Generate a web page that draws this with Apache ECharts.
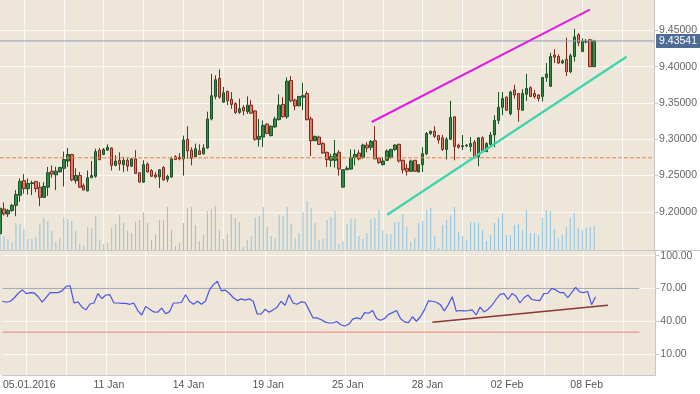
<!DOCTYPE html>
<html><head><meta charset="utf-8">
<script src="https://cdn.jsdelivr.net/npm/echarts@6/dist/echarts.min.js"></script>
<style>html,body{margin:0;padding:0;background:#fff}#c{width:700px;height:394px}</style>
</head><body><div id="c"></div>
<script>
// x-axis date labels and the candle slot they sit on
const tickLabels = ['05.01.2016','11 Jan','14 Jan','19 Jan','25 Jan','28 Jan','02 Feb','08 Feb'];
const tickSlots = [6,26,46,66,86,106,126,146];
const gridSlots = [6,16,26,36,46,56,66,76,86,96,106,116,126,136,146,156];
const slotCount = 165; // 150 candles + empty future slots
const categories = [];
for (let i = 0; i < slotCount; i++) categories.push(String(i));

// candles: [open, close, low, high]
const candles = [
[9.170,9.205,9.160,9.210],[9.204,9.197,9.195,9.213],[9.197,9.202,9.193,9.204],[9.202,9.209,9.200,9.211],[9.209,9.224,9.194,9.230],
[9.223,9.242,9.214,9.246],[9.243,9.232,9.225,9.252],[9.232,9.239,9.224,9.246],[9.239,9.240,9.223,9.243],[9.242,9.232,9.227,9.242],
[9.234,9.220,9.208,9.241],[9.220,9.235,9.220,9.241],[9.234,9.254,9.222,9.262],[9.256,9.252,9.247,9.264],[9.251,9.256,9.230,9.262],
[9.255,9.261,9.255,9.262],[9.260,9.272,9.235,9.283],[9.270,9.279,9.262,9.288],[9.279,9.244,9.242,9.280],[9.243,9.250,9.239,9.260],
[9.250,9.234,9.233,9.255],[9.236,9.230,9.230,9.239],[9.229,9.247,9.228,9.257],[9.247,9.250,9.247,9.270],[9.249,9.283,9.247,9.287],
[9.285,9.272,9.271,9.288],[9.279,9.286,9.278,9.288],[9.285,9.289,9.284,9.293],[9.288,9.264,9.257,9.289],[9.264,9.270,9.263,9.278],
[9.271,9.266,9.257,9.282],[9.265,9.271,9.255,9.276],[9.271,9.263,9.256,9.274],[9.263,9.273,9.262,9.274],[9.273,9.253,9.252,9.285],
[9.254,9.241,9.241,9.254],[9.241,9.265,9.240,9.271],[9.266,9.255,9.254,9.268],[9.257,9.249,9.248,9.259],[9.251,9.248,9.246,9.255],
[9.248,9.258,9.233,9.259],[9.261,9.244,9.243,9.263],[9.245,9.249,9.241,9.251],[9.248,9.273,9.247,9.276],[9.276,9.272,9.272,9.278],
[9.275,9.273,9.271,9.281],[9.273,9.299,9.250,9.305],[9.300,9.284,9.273,9.318],[9.285,9.274,9.264,9.289],[9.276,9.287,9.275,9.294],
[9.284,9.279,9.279,9.293],[9.280,9.288,9.279,9.293],[9.288,9.328,9.287,9.338],[9.328,9.360,9.326,9.390],[9.359,9.382,9.355,9.388],
[9.384,9.358,9.356,9.396],[9.351,9.364,9.351,9.372],[9.366,9.353,9.347,9.367],[9.355,9.348,9.342,9.365],[9.349,9.337,9.335,9.351],
[9.337,9.342,9.335,9.356],[9.344,9.339,9.333,9.347],[9.338,9.347,9.335,9.359],[9.347,9.336,9.335,9.354],[9.339,9.300,9.298,9.340],
[9.300,9.304,9.290,9.328],[9.303,9.319,9.289,9.326],[9.321,9.308,9.307,9.322],[9.305,9.318,9.304,9.319],[9.317,9.328,9.316,9.331],
[9.327,9.347,9.326,9.362],[9.348,9.331,9.330,9.358],[9.331,9.380,9.328,9.385],[9.381,9.353,9.351,9.387],[9.354,9.346,9.340,9.356],
[9.346,9.359,9.346,9.359],[9.358,9.360,9.340,9.378],[9.363,9.327,9.326,9.366],[9.328,9.298,9.277,9.331],[9.298,9.304,9.298,9.305],
[9.303,9.293,9.292,9.305],[9.294,9.281,9.280,9.296],[9.282,9.272,9.262,9.283],[9.271,9.276,9.262,9.280],[9.271,9.280,9.261,9.299],
[9.282,9.259,9.250,9.285],[9.234,9.258,9.234,9.259],[9.258,9.260,9.258,9.263],[9.259,9.275,9.258,9.286],[9.275,9.279,9.264,9.286],
[9.281,9.273,9.271,9.285],[9.275,9.292,9.273,9.294],[9.292,9.288,9.282,9.296],[9.289,9.297,9.285,9.299],[9.298,9.273,9.273,9.318],
[9.274,9.268,9.266,9.275],[9.265,9.270,9.264,9.275],[9.271,9.284,9.270,9.286],[9.275,9.286,9.273,9.287],[9.286,9.292,9.284,9.293],
[9.293,9.270,9.268,9.294],[9.271,9.258,9.253,9.272],[9.260,9.256,9.250,9.266],[9.256,9.270,9.255,9.272],[9.271,9.256,9.255,9.271],
[9.255,9.265,9.255,9.265],[9.265,9.280,9.255,9.289],[9.280,9.308,9.278,9.310],[9.308,9.311,9.306,9.312],[9.311,9.304,9.302,9.318],
[9.305,9.299,9.294,9.306],[9.302,9.286,9.284,9.306],[9.286,9.300,9.272,9.303],[9.300,9.330,9.299,9.353],[9.331,9.290,9.271,9.331],
[9.292,9.289,9.287,9.294],[9.290,9.291,9.285,9.306],[9.291,9.292,9.289,9.293],[9.290,9.294,9.283,9.303],[9.296,9.276,9.273,9.299],
[9.276,9.302,9.263,9.303],[9.302,9.283,9.281,9.304],[9.283,9.294,9.283,9.296],[9.293,9.306,9.290,9.310],[9.306,9.326,9.289,9.333],
[9.326,9.344,9.321,9.365],[9.344,9.356,9.333,9.365],[9.358,9.340,9.339,9.359],[9.335,9.365,9.333,9.367],[9.368,9.361,9.356,9.375],
[9.363,9.341,9.324,9.364],[9.340,9.363,9.339,9.369],[9.362,9.370,9.353,9.390],[9.371,9.359,9.358,9.373],[9.363,9.359,9.356,9.368],
[9.361,9.356,9.352,9.362],[9.359,9.385,9.352,9.386],[9.385,9.390,9.379,9.405],[9.373,9.414,9.372,9.419],[9.416,9.413,9.405,9.424],
[9.414,9.405,9.404,9.417],[9.405,9.408,9.404,9.410],[9.410,9.393,9.387,9.440],[9.393,9.415,9.391,9.418],[9.414,9.441,9.407,9.452],
[9.444,9.433,9.428,9.446],[9.421,9.435,9.420,9.439],[9.434,9.435,9.432,9.438],[9.437,9.400,9.400,9.438],[9.400,9.43541,9.400,9.437]
];

// volume (relative units)
const volumes = [
20,14,11,8,27,26,21,11,11,13,26,32,29,19,8,12,33,31,29,19,6,
5,23,22,34,10,6,7,22,26,35,27,19,17,28,30,38,27,10,15,30,
30,43,20,4,7,27,42,43,25,9,15,39,41,44,20,11,16,
36,32,28,3,10,14,32,34,43,23,14,12,35,34,43,26,12,17,38,49,42,27,
10,11,30,33,39,6,9,26,31,31,14,11,17,31,32,40,20,16,16,28,28,36,23,8,12,27,
29,40,42,14,2,25,30,
35,43,18,14,10,28,28,27,20,9,15,27,32,37,15,15,25,26,20,40,17,17,15,32,40,39,21,12,15,23,32,37,22,20,22,23,24
];

// RSI values
const rsi = [
58.3,57.4,58.3,61.5,65.6,68.7,65.3,66.2,65.9,62.4,
57.4,61.8,66.2,66.2,66.2,67.8,71.9,72.5,56.7,57.7,
52.9,50.4,55.8,56.7,65.3,60.8,64.0,64.3,56.7,56.7,
56.4,56.4,55.5,56.7,49.8,45.7,53.6,51.0,48.5,48.2,
52.0,46.9,48.8,56.7,56.7,57.4,64.3,58.3,55.5,58.3,
55.5,58.3,68.4,73.5,76.6,67.8,68.4,65.6,61.5,58.9,
60.5,59.3,60.5,58.3,46.6,46.6,51.0,48.2,50.4,52.9,
58.3,54.5,64.3,56.7,55.5,57.7,57.4,50.4,43.1,43.1,
41.6,39.4,38.4,38.4,39.7,36.8,35.6,37.2,41.9,43.1,
42.2,47.9,47.3,49.8,42.5,40.9,42.5,46.3,47.9,49.8,
42.5,39.4,38.7,44.1,40.0,44.1,50.4,58.6,58.3,57.4,
55.2,49.5,55.2,62.4,49.2,49.8,49.5,49.8,50.4,45.7,
52.9,48.5,51.0,54.8,59.9,64.6,65.3,59.9,65.3,63.0,
56.7,61.5,64.0,59.9,59.3,58.9,65.3,65.6,70.0,68.7,
66.2,66.2,61.5,66.2,70.9,66.8,66.2,67.2,55.2,62.4
];

const priceTicks = [9.20,9.25,9.30,9.35,9.40,9.45];
const rsiTicks = [10,40,70,100];
const lastPrice = 9.43541;
const refLevel = 9.2745;
const levelSpan = [0, 164];
const upperTrend = [[93.2,9.3238],[147.9,9.4784]];
const lowerTrend = [[97.1,9.1961],[157.1,9.4137]];
const rsiTrend = [[108.0,39.0],[152.1,54.6]];
const rsiHigh = [[0,70],[160,70]];
const rsiLow = [[0,30],[160,30]];

const FONT = 'Liberation Sans';
const BG = '#ede6d9';
const GRIDC = '#fbf9f5';
const AXC = '#c8c8c8';
const isGridSlot = (i) => gridSlots.indexOf(i) >= 0;
const isTickSlot = (i) => tickSlots.indexOf(i) >= 0;
const hiddenY = {show: false, axisLine: {show: false, onZero: false}, splitLine: {show: false}, axisTick: {show: false}, axisLabel: {show: false}};

const chart = echarts.init(document.getElementById('c'), null, {renderer: 'canvas'});
chart.setOption({
  animation: false,
  textStyle: {fontFamily: FONT},
  grid: [
    {left: -0.7, top: 0, width: 656, height: 250, show: false},
    {left: -0.7, top: 250, width: 656, height: 125, show: false}
  ],
  xAxis: [
    {type: 'category', gridIndex: 0, data: categories, boundaryGap: false,
     axisLine: {show: false, onZero: false}, axisTick: {show: false, interval: (i) => isGridSlot(i)}, axisLabel: {show: false},
     splitLine: {show: true, interval: (i) => isGridSlot(i), lineStyle: {color: GRIDC, width: 1}}},
    {type: 'category', gridIndex: 1, data: categories, boundaryGap: false,
     axisLine: {show: true, onZero: false, lineStyle: {color: AXC}}, axisTick: {show: false, interval: (i) => isGridSlot(i)},
     axisLabel: {show: true, interval: (i) => isTickSlot(i), color: '#555', fontSize: 10.5, margin: 5, padding: [0,0,0,6],
       formatter: (v) => { const k = tickSlots.indexOf(Number(v)); return k >= 0 ? tickLabels[k] : ''; }},
     splitLine: {show: true, interval: (i) => isGridSlot(i), lineStyle: {color: GRIDC, width: 1}}},
    Object.assign({type: 'value', gridIndex: 0, min: 0, max: 164}, hiddenY),
    Object.assign({type: 'value', gridIndex: 1, min: 0, max: 164}, hiddenY)
  ],
  yAxis: [
    {type: 'value', gridIndex: 0, position: 'right', min: 9.1475, max: 9.4918, scale: true,
     axisLine: {show: true, onZero: false, lineStyle: {color: AXC}},
     axisTick: {show: true, length: 4, customValues: priceTicks, lineStyle: {color: AXC}},
     axisLabel: {show: true, customValues: priceTicks, color: '#666', fontSize: 10.5, margin: 5, formatter: (v) => v.toFixed(5)},
     splitLine: {show: true, lineStyle: {color: GRIDC, width: 1}}},
    Object.assign({type: 'value', gridIndex: 0, min: 0, max: 250}, hiddenY),
    {type: 'value', gridIndex: 1, position: 'right', min: -9.23, max: 105.22,
     axisLine: {show: true, onZero: false, lineStyle: {color: AXC}},
     axisTick: {show: true, length: 4, customValues: rsiTicks, lineStyle: {color: AXC}},
     axisLabel: {show: true, customValues: rsiTicks, color: '#666', fontSize: 10.5, margin: 5, formatter: (v) => v.toFixed(2)},
     splitLine: {show: true, lineStyle: {color: GRIDC, width: 1}}}
  ],
  graphic: [
    {type: 'rect', shape: {x: 0, y: 0, width: 655, height: 375}, style: {fill: BG}, z: -10, silent: true},
    {type: 'line', shape: {x1: 0, y1: 250.5, x2: 700, y2: 250.5}, style: {stroke: AXC, lineWidth: 1}, z: 100, silent: true}
  ],
  series: [
    {type: 'bar', name: 'Volume', xAxisIndex: 0, yAxisIndex: 1, data: volumes, barWidth: 1,
     itemStyle: {color: '#8fc3df'}, silent: true},
    {type: 'line', name: 'Last', xAxisIndex: 2, yAxisIndex: 0, symbol: 'none', silent: true,
     data: levelSpan.map((x) => [x, lastPrice]),
     lineStyle: {color: '#8d9db7', width: 1},
     endLabel: {show: true, distance: 2, formatter: lastPrice.toFixed(5), color: '#fff',
               backgroundColor: '#4d6d95', padding: [2,3,1,3], fontSize: 10.5, fontFamily: FONT}},
    {type: 'line', name: 'Level', xAxisIndex: 2, yAxisIndex: 0, symbol: 'none', silent: true,
     data: levelSpan.map((x) => [x, refLevel]),
     lineStyle: {color: '#ec8448', width: 1, type: [4,2]}},
    {type: 'candlestick', name: 'Price', xAxisIndex: 0, yAxisIndex: 0, data: candles, barWidth: 3,
     itemStyle: {color: '#2f8c45', color0: '#e07b68', borderColor: '#1d5127', borderColor0: '#7f2a1c', borderWidth: 1}},
    {type: 'line', xAxisIndex: 2, yAxisIndex: 0, data: upperTrend, symbol: 'none', silent: true,
     lineStyle: {color: '#e01ee0', width: 2}},
    {type: 'line', xAxisIndex: 2, yAxisIndex: 0, data: lowerTrend, symbol: 'none', silent: true,
     lineStyle: {color: '#3fd4ac', width: 2.2}},
    {type: 'line', xAxisIndex: 3, yAxisIndex: 2, data: rsiHigh, symbol: 'none', silent: true,
     lineStyle: {color: '#a3a9b3', width: 1}},
    {type: 'line', xAxisIndex: 3, yAxisIndex: 2, data: rsiLow, symbol: 'none', silent: true,
     lineStyle: {color: '#e8837c', width: 1}},
    {type: 'line', name: 'RSI', xAxisIndex: 1, yAxisIndex: 2, data: rsi, symbol: 'none', silent: true,
     lineStyle: {color: '#4b57e3', width: 1.2}},
    {type: 'line', xAxisIndex: 3, yAxisIndex: 2, data: rsiTrend, symbol: 'none', silent: true,
     lineStyle: {color: '#8b3535', width: 1.5}}
  ]
});
</script></body></html>
